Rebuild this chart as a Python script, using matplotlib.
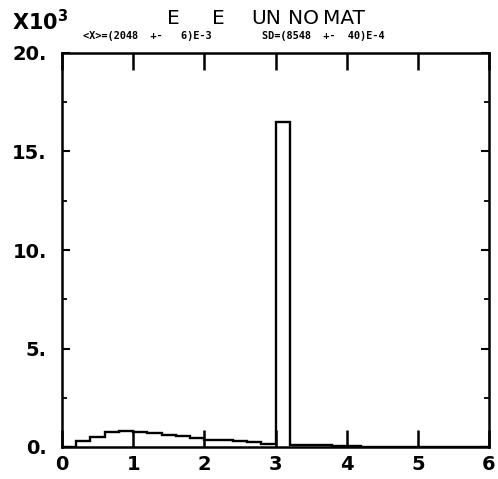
import numpy as np
import matplotlib
matplotlib.use("Agg")
import matplotlib.pyplot as plt
from matplotlib.ticker import MultipleLocator

# Histogram bin edges (0.2 wide, 0..6) and contents in units of 10^3
bin_edges = np.round(np.arange(0, 6.0001, 0.2), 3)
counts = [0.0, 0.30, 0.52, 0.76, 0.80, 0.78, 0.70, 0.62, 0.54, 0.46,
          0.38, 0.33, 0.28, 0.23, 0.17, 16.5, 0.12, 0.10, 0.08, 0.06,
          0.03, 0.0, 0.0, 0.0, 0.0, 0.0, 0.0, 0.0, 0.0, 0.0]
x_ticks = [0, 1, 2, 3, 4, 5, 6]
x_labels = ["0", "1", "2", "3", "4", "5", "6"]
y_ticks = [0, 5, 10, 15, 20]
y_labels = ["0.", "5.", "10.", "15.", "20."]
title_words = ["E", "E", "UN", "NO", "MAT"]
title_x = [167, 212, 251, 288, 323]
subtitle_parts = ["<X>=(2048  +-   6)E-3", "SD=(8548  +-  40)E-4"]
subtitle_x = [83, 262]

fig = plt.figure(figsize=(4.98, 4.79), dpi=100)
ax = fig.add_axes([62/498, 1-447/479, 427/498, (447-53)/479])

ax.stairs(counts, bin_edges, color="black", linewidth=1.7)

ax.set_xlim(0, 6)
ax.set_ylim(0, 20)
for s in ax.spines.values():
    s.set_linewidth(1.8)

ax.set_xticks(x_ticks)
ax.set_xticklabels(x_labels)
ax.set_yticks(y_ticks)
ax.set_yticklabels(y_labels)
ax.yaxis.set_minor_locator(MultipleLocator(2.5))

ax.tick_params(axis="x", which="major", direction="in", length=12, width=1.8,
               top=True, bottom=True, labelsize=14, pad=6)
ax.tick_params(axis="y", which="major", direction="in", length=6, width=1.5,
               left=True, right=True, labelsize=14, pad=11)
ax.tick_params(axis="y", which="minor", direction="in", length=3.5, width=1.3,
               left=True, right=True)
for lab in ax.get_xticklabels() + ax.get_yticklabels():
    lab.set_fontweight("bold")

fig.text(12/498, 1-30/479, r"X10$^{\mathbf{3}}$", fontsize=15, fontweight="bold",
         ha="left", va="baseline")
for w, xp in zip(title_words, title_x):
    fig.text(xp/498, 1-24/479, w, fontsize=14.5, ha="left", va="baseline")
for t, xp in zip(subtitle_parts, subtitle_x):
    fig.text(xp/498, 1-39/479, t, fontsize=7.4, fontweight="bold",
             family="DejaVu Sans Mono", ha="left", va="baseline")

fig.savefig("out.png", dpi=100)
